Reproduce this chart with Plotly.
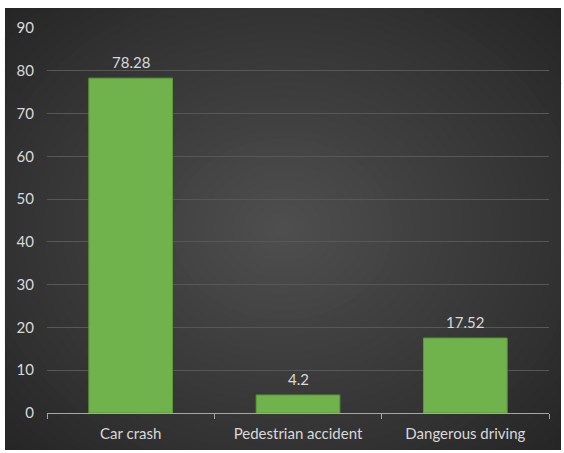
import numpy as np
import plotly.graph_objects as go

categories = ["Car crash", "Pedestrian accident", "Dangerous driving"]
values = [78.28, 4.2, 17.52]
value_labels = ["78.28", "4.2", "17.52"]
y_ticks = [0, 10, 20, 30, 40, 50, 60, 70, 80, 90]

W, H = 564, 453
ML, MR, MT, MB = 47, 15, 28, 40
PW, PH = W - ML - MR, H - MT - MB

def px2paper(px, py):
    return (px - ML) / PW, (H - MB - py) / PH

# dark panel extent in pixels
X0, X1, Y0, Y1 = 5, 561, 8, 450
CX, CY = (X0 + X1) / 2, (Y0 + Y1) / 2

def lerp(c1, c2, t):
    return tuple(int(round(a + (b - a) * t)) for a, b in zip(c1, c2))

edge = (36, 36, 36)
center = (78, 78, 78)

shapes = []
x0p, y0p = px2paper(X0, Y1)
x1p, y1p = px2paper(X1, Y0)
shapes.append(dict(type="rect", xref="paper", yref="paper", x0=x0p, y0=y0p, x1=x1p, y1=y1p,
                   fillcolor="rgb(%d,%d,%d)" % edge, line=dict(width=0), layer="below"))
N = 40
RX, RY = 400, 330
th = np.linspace(0, 2 * np.pi, 90)
for k in range(N):
    s = 1 - k / N
    t = (k + 1) / N
    c = lerp(edge, center, t)
    xs = np.clip(CX + RX * s * np.cos(th), X0, X1)
    ys = np.clip(CY + RY * s * np.sin(th), Y0, Y1)
    pts = [px2paper(a, b) for a, b in zip(xs, ys)]
    path = "M" + " L".join("%.5f,%.5f" % p for p in pts) + " Z"
    shapes.append(dict(type="path", xref="paper", yref="paper", path=path,
                       fillcolor="rgb(%d,%d,%d)" % c, line=dict(width=0), layer="below"))

font_color = "#d9d9d9"
fam = "Lato, 'Open Sans', sans-serif"
FS = 15

fig = go.Figure(go.Bar(
    x=categories, y=values,
    marker=dict(color="#70b24b", line=dict(color="#5c9a38", width=1)),
    hoverinfo="skip",
))
annotations = [dict(x=c, y=v, text=t, showarrow=False, xref="x", yref="y",
                    yanchor="bottom", yshift=5, font=dict(color=font_color, size=FS, family=fam))
               for c, v, t in zip(categories, values, value_labels)]
fig.update_layout(
    width=W, height=H,
    margin=dict(l=ML, r=MR, t=MT, b=MB),
    paper_bgcolor="white", plot_bgcolor="rgba(0,0,0,0)",
    bargap=0.5, showlegend=False, shapes=shapes, annotations=annotations,
    font=dict(family=fam, color=font_color, size=FS),
)
fig.update_xaxes(showgrid=False, showline=True, linecolor="#a6a6a6", linewidth=1,
                 ticks="outside", tickson="boundaries", ticklen=5, tickcolor="#a6a6a6",
                 tickfont=dict(size=FS, color=font_color), ticklabelstandoff=7)
fig.update_yaxes(range=[0, 90], tickvals=y_ticks, showgrid=True, gridcolor="#575757", gridwidth=1,
                 zeroline=False, showline=False, ticks="", tickfont=dict(size=FS, color=font_color),
                 ticklabelstandoff=12)
fig.write_html("out.html", config={"displayModeBar": False})

with open("out.html", encoding="utf-8") as f:
    html = f.read()
html = html.replace("<head>", "<head><style>html,body{margin:0;padding:0;overflow:hidden;}</style>", 1)
with open("out.html", "w", encoding="utf-8") as f:
    f.write(html)
